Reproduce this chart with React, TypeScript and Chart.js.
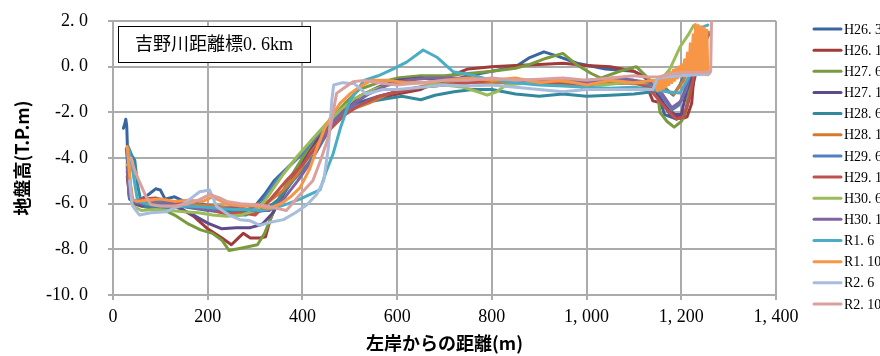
import React, { useEffect, useRef } from "react";
import { Chart, registerables } from "chart.js";
Chart.register(...registerables);

type Pt = [number, number];

const chartTitle = "吉野川距離標0.6km";
const xAxisTitle = "左岸からの距離(m)";
const yAxisTitle = "地盤高(T.P.m)";
const xTickValues = [0, 200, 400, 600, 800, 1000, 1200, 1400];
const yTickValues = [2, 0, -2, -4, -6, -8, -10];

const seriesNames = [
  "H26.3", "H26.10", "H27.6", "H27.10", "H28.6", "H28.10", "H29.6",
  "H29.10", "H30.6", "H30.10", "R1.6", "R1.10", "R2.6", "R2.10",
];
const seriesColors = [
  "#3A66A0", "#A03B39", "#7A9A3E", "#5E4A8A", "#34889E", "#D7782F", "#4F81BD",
  "#C0504D", "#9BBB59", "#8064A2", "#4BACC6", "#F79646", "#A7BDDB", "#DBA09E",
];

const H26_3: Pt[] = [[22,-2.7],[25,-2.5],[27,-2.3],[29,-2.6],[32,-4.5],[35,-5.8],[45,-5.9],[60,-5.8],[75,-5.6],[90,-5.35],[100,-5.4],[110,-5.8],[130,-5.7],[150,-5.9],[180,-6.0],[210,-6.1],[240,-6.3],[270,-6.4],[300,-6.1],[320,-5.6],[340,-5.0],[360,-4.6],[380,-4.2],[400,-3.8],[420,-3.2],[440,-2.8],[460,-2.3],[480,-2.0],[500,-1.7],[530,-1.5],[560,-1.3],[600,-1.1],[650,-0.9],[700,-0.7],[750,-0.4],[800,-0.2],[850,0.0],[880,0.4],[910,0.65],[940,0.45],[980,0.15],[1040,-0.1],[1100,-0.2],[1130,-0.5],[1150,-1.2],[1165,-2.1],[1190,-2.3],[1210,-1.9],[1225,-0.8],[1240,0.6],[1255,1.4]];
const H26_10: Pt[] = [[30,-4.8],[35,-5.7],[45,-5.9],[60,-5.95],[80,-5.9],[100,-5.9],[130,-6.0],[150,-6.3],[170,-6.55],[200,-7.1],[230,-7.5],[250,-7.8],[265,-7.5],[275,-7.3],[290,-7.5],[310,-7.5],[322,-7.45],[332,-6.7],[350,-5.8],[370,-5.1],[400,-4.2],[430,-3.2],[460,-2.5],[480,-2.1],[500,-1.8],[530,-1.6],[560,-1.4],[600,-1.2],[650,-1.0],[700,-0.5],[750,-0.1],[800,0.0],[850,0.05],[900,0.1],[950,0.15],[1000,0.05],[1050,0.0],[1100,-0.2],[1125,-0.5],[1132,-1.1],[1140,-1.5],[1160,-1.6],[1180,-2.0],[1200,-2.3],[1212,-2.2],[1222,-1.6],[1227,-0.3],[1240,0.7],[1255,1.3]];
const H27_6: Pt[] = [[30,-4.0],[35,-5.5],[45,-6.0],[60,-6.1],[80,-6.2],[100,-6.2],[130,-6.5],[160,-6.9],[185,-7.15],[210,-7.3],[230,-7.6],[245,-8.05],[270,-7.95],[305,-7.8],[320,-7.3],[332,-6.7],[345,-6.0],[370,-5.0],[400,-4.0],[430,-3.0],[460,-2.3],[490,-1.6],[520,-1.0],[560,-0.7],[600,-0.5],[650,-0.4],[700,-0.4],[750,-0.3],[800,-0.2],[850,-0.07],[880,0.1],[915,0.37],[950,0.58],[980,0.07],[1010,-0.3],[1030,-0.5],[1070,-0.2],[1105,0.0],[1125,-0.4],[1148,-0.9],[1155,-2.0],[1170,-2.4],[1185,-2.65],[1200,-2.4],[1208,-2.1],[1218,-0.9],[1230,0.5],[1245,1.3],[1258,1.5]];
const H27_10: Pt[] = [[30,-4.6],[35,-5.6],[45,-6.0],[60,-6.1],[80,-6.1],[110,-6.0],[140,-6.2],[170,-6.5],[200,-6.85],[230,-7.1],[260,-7.05],[290,-7.05],[315,-6.9],[338,-6.4],[360,-5.6],[390,-4.6],[420,-3.6],[450,-2.8],[480,-2.0],[520,-1.3],[560,-0.9],[600,-0.6],[650,-0.5],[700,-0.6],[750,-0.6],[800,-0.6],[850,-0.7],[900,-0.6],[960,-0.6],[990,-0.9],[1010,-0.6],[1060,-0.5],[1100,-0.6],[1140,-0.9],[1160,-1.5],[1176,-2.1],[1200,-2.1],[1211,-1.1],[1225,-0.2],[1240,0.5],[1257,1.4]];
const H28_6: Pt[] = [[32,-3.5],[40,-3.9],[46,-4.1],[52,-5.2],[60,-6.0],[80,-6.2],[110,-6.2],[140,-6.1],[170,-6.2],[200,-6.3],[230,-6.35],[260,-6.3],[290,-6.4],[320,-6.3],[350,-5.8],[380,-5.0],[410,-4.3],[430,-3.7],[450,-3.0],[470,-2.4],[490,-2.0],[520,-1.7],[550,-1.5],[580,-1.4],[610,-1.3],[650,-1.45],[680,-1.25],[720,-1.1],[760,-1.0],[800,-1.0],[850,-1.2],[900,-1.3],[950,-1.2],[1000,-1.3],[1050,-1.25],[1100,-1.2],[1140,-1.1],[1169,-1.0],[1183,-1.25],[1197,-0.8],[1211,-0.07],[1230,0.8],[1250,1.4]];
const H28_10: Pt[] = [[32,-3.8],[36,-5.0],[42,-5.9],[60,-5.9],[90,-5.95],[120,-5.9],[150,-6.0],[180,-6.05],[210,-6.1],[240,-6.15],[270,-6.1],[300,-6.05],[330,-5.9],[360,-5.4],[390,-4.7],[420,-3.7],[450,-2.9],[470,-2.3],[500,-1.9],[540,-1.6],[580,-1.2],[620,-1.0],[670,-0.8],[720,-0.7],[780,-0.7],[840,-0.7],[900,-0.7],[960,-0.8],[1020,-0.7],[1080,-0.7],[1130,-0.8],[1160,-1.0],[1185,-1.2],[1205,-0.6],[1225,0.4],[1250,1.3]];
const H29_6: Pt[] = [[28,-3.6],[32,-4.5],[36,-5.8],[50,-5.9],[70,-5.8],[100,-5.9],[130,-6.0],[160,-6.1],[190,-6.2],[220,-6.3],[250,-6.5],[280,-6.5],[305,-6.2],[325,-5.6],[345,-5.0],[370,-4.4],[395,-3.9],[420,-3.3],[445,-2.7],[470,-2.2],[500,-1.8],[530,-1.6],[560,-1.3],[600,-1.1],[650,-0.9],[700,-0.8],[750,-0.7],[800,-0.6],[850,-0.6],[900,-0.7],[950,-0.7],[1000,-0.6],[1050,-0.55],[1100,-0.6],[1140,-0.8],[1160,-1.3],[1180,-1.9],[1194,-1.7],[1210,-1.0],[1225,0.2],[1240,1.0],[1255,1.4]];
const H29_10: Pt[] = [[30,-4.2],[34,-5.6],[40,-5.9],[60,-5.8],[90,-5.75],[120,-5.9],[150,-6.0],[180,-6.2],[210,-6.3],[240,-6.45],[270,-6.4],[300,-6.5],[320,-6.1],[345,-5.5],[370,-4.9],[400,-4.3],[430,-3.5],[460,-2.7],[490,-2.1],[520,-1.7],[560,-1.3],[600,-1.1],[650,-0.9],[700,-0.8],[750,-0.7],[800,-0.6],[850,-0.7],[900,-0.75],[950,-0.7],[1000,-0.8],[1050,-0.75],[1100,-0.7],[1130,-0.9],[1150,-1.4],[1170,-1.9],[1190,-2.3],[1205,-2.2],[1218,-1.3],[1230,0.0],[1245,1.0],[1258,1.4]];
const H30_6: Pt[] = [[30,-4.3],[35,-5.5],[42,-6.1],[60,-6.3],[90,-6.25],[120,-6.3],[150,-6.35],[180,-6.4],[210,-6.5],[240,-6.55],[270,-6.5],[300,-6.3],[320,-5.9],[340,-5.3],[360,-4.7],[390,-3.9],[420,-3.2],[450,-2.5],[480,-1.9],[510,-1.4],[550,-1.0],[600,-0.7],[650,-0.7],[700,-0.8],[740,-0.9],[770,-1.1],[790,-1.25],[810,-1.1],[830,-0.8],[880,-0.7],[930,-0.6],[980,-0.7],[1030,-0.8],[1080,-0.7],[1130,-0.7],[1160,-0.5],[1176,-0.1],[1197,0.85],[1215,1.4],[1226,1.8],[1240,1.5]];
const H30_10: Pt[] = [[30,-4.4],[34,-5.7],[42,-5.95],[60,-6.0],[90,-6.0],[120,-6.05],[150,-6.1],[180,-6.2],[210,-6.3],[240,-6.2],[270,-6.2],[300,-6.3],[330,-6.3],[360,-5.8],[390,-5.0],[420,-4.1],[440,-3.3],[460,-2.6],[480,-2.1],[510,-1.6],[540,-1.2],[580,-0.8],[620,-0.6],[670,-0.5],[720,-0.5],[780,-0.55],[840,-0.6],[900,-0.6],[960,-0.6],[1010,-0.7],[1050,-0.6],[1100,-0.6],[1140,-0.7],[1160,-1.2],[1180,-1.8],[1200,-1.5],[1215,-0.5],[1235,0.6],[1255,1.4]];
const R1_6: Pt[] = [[33,-3.6],[38,-4.1],[45,-5.0],[52,-5.9],[70,-6.0],[100,-6.1],[130,-6.15],[160,-6.1],[190,-6.15],[220,-6.2],[250,-6.25],[280,-6.25],[310,-6.3],[340,-6.2],[370,-6.0],[395,-5.8],[415,-5.6],[437,-5.4],[450,-4.6],[465,-3.8],[480,-2.7],[500,-1.5],[530,-0.6],[560,-0.4],[592,-0.1],[620,0.2],[655,0.73],[685,0.4],[718,-0.22],[760,-0.37],[800,-0.6],[850,-0.7],[900,-0.8],[950,-0.85],[1000,-0.9],[1050,-0.95],[1100,-0.9],[1140,-1.0],[1170,-1.1],[1197,-1.15],[1218,-0.37],[1233,1.24],[1247,1.75],[1256,1.82]];
const R1_10: Pt[] = [[30,-3.5],[33,-4.2],[36,-5.0],[40,-5.8],[50,-5.9],[70,-5.85],[100,-5.8],[130,-5.9],[160,-5.85],[190,-5.9],[210,-5.7],[240,-6.0],[270,-6.1],[300,-6.1],[330,-6.2],[355,-6.0],[375,-5.7],[395,-5.3],[415,-4.5],[430,-3.6],[445,-2.8],[460,-2.2],[480,-1.6],[500,-1.2],[520,-0.9],[545,-0.6],[580,-0.6],[620,-0.7],[660,-0.7],[700,-0.6],[750,-0.5],[800,-0.6],[850,-0.5],[900,-0.7],[950,-0.6],[1000,-0.8],[1050,-0.6],[1100,-0.7],[1140,-0.6],[1150,-1.05],[1153,-0.45],[1156,-1.0],[1159,-0.42],[1162,-0.95],[1165,-0.38],[1168,-0.88],[1171,-0.32],[1174,-0.78],[1177,-0.25],[1180,-0.7],[1183,-0.15],[1186,-0.6],[1189,-0.08],[1192,-0.5],[1195,0.0],[1198,-0.42],[1201,0.1],[1204,-0.36],[1207,0.3],[1210,-0.35],[1213,0.6],[1216,-0.35],[1219,1.0],[1222,-0.35],[1225,1.4],[1228,-0.35],[1230,1.85],[1233,-0.35],[1236,1.8],[1239,-0.35],[1242,1.75],[1245,-0.35],[1248,1.7],[1251,-0.35],[1254,1.6],[1256,-0.35]];
const R2_6: Pt[] = [[35,-5.0],[40,-6.0],[45,-6.2],[56,-6.5],[80,-6.4],[113,-6.35],[150,-6.0],[183,-5.48],[204,-5.4],[219,-6.13],[245,-6.5],[268,-6.7],[290,-6.75],[310,-6.95],[335,-6.8],[360,-6.7],[385,-6.4],[409,-6.06],[430,-5.6],[445,-5.0],[455,-3.5],[462,-1.5],[466,-0.8],[485,-0.7],[510,-0.75],[535,-1.2],[570,-1.0],[600,-1.0],[650,-0.9],[700,-0.8],[750,-0.85],[800,-0.8],[850,-0.9],[900,-1.0],[950,-1.1],[1000,-1.0],[1050,-1.0],[1100,-1.0],[1140,-1.0],[1150,-0.5],[1170,-0.45],[1200,-0.4],[1230,-0.35],[1260,-0.3]];
const R2_10: Pt[] = [[38,-4.0],[45,-4.5],[55,-5.0],[70,-5.7],[80,-6.05],[100,-6.1],[130,-6.1],[160,-6.0],[185,-5.8],[204,-5.6],[225,-5.75],[240,-5.9],[270,-6.0],[300,-6.05],[324,-6.1],[345,-6.2],[366,-6.3],[395,-5.6],[422,-5.0],[440,-4.0],[455,-3.07],[465,-2.0],[472,-1.17],[490,-0.9],[507,-0.66],[530,-0.6],[560,-0.7],[600,-0.8],[650,-0.7],[700,-0.6],[750,-0.6],[800,-0.5],[850,-0.6],[900,-0.55],[950,-0.5],[1000,-0.6],[1050,-0.5],[1100,-0.4],[1130,-0.45],[1155,-0.44],[1180,-0.3],[1210,-0.25],[1240,-0.25],[1262,-0.22],[1264,2.2]];

const seriesData: Pt[][] = [H26_3, H26_10, H27_6, H27_10, H28_6, H28_10, H29_6, H29_10, H30_6, H30_10, R1_6, R1_10, R2_6, R2_10];

const SERIF = "'Liberation Serif', 'Noto Sans CJK JP', serif";
const GOTHIC = "'Noto Sans CJK JP', sans-serif";
const GRID = "#ABABAB";

const minchoSpacing = (s: string) => s.replace(/\./g, ". ").replace(/,/g, ", ");

const titleBoxPlugin = {
  id: "titleBox",
  afterDraw(chart: any) {
    const ctx = chart.ctx;
    const a = chart.chartArea;
    ctx.save();
    const x = a.left + 5, y = a.top + 5, w = 192, h = 36;
    ctx.fillStyle = "#ffffff";
    ctx.fillRect(x, y, w, h);
    ctx.strokeStyle = "#000000";
    ctx.lineWidth = 1;
    ctx.strokeRect(x + 0.5, y + 0.5, w, h);
    ctx.fillStyle = "#000000";
    ctx.font = `18px ${SERIF}`;
    ctx.textAlign = "center";
    ctx.textBaseline = "middle";
    ctx.fillText(minchoSpacing(chartTitle), x + w / 2, y + h / 2 + 1);
    ctx.restore();
  },
};

const legendPlugin = {
  id: "sideLegend",
  afterDraw(chart: any) {
    const ctx = chart.ctx;
    ctx.save();
    chart.data.datasets.forEach((ds: any, i: number) => {
      const y = 29 + i * 21.15;
      ctx.strokeStyle = ds.borderColor;
      ctx.lineWidth = 3;
      ctx.lineCap = "round";
      ctx.beginPath();
      ctx.moveTo(814, y);
      ctx.lineTo(841, y);
      ctx.stroke();
      ctx.fillStyle = "#000000";
      ctx.font = `14px ${SERIF}`;
      ctx.textAlign = "left";
      ctx.textBaseline = "middle";
      ctx.fillText(minchoSpacing(ds.label), 844, y + 1);
    });
    ctx.restore();
  },
};

export default function App() {
  const ref = useRef<HTMLCanvasElement | null>(null);
  useEffect(() => {
    if (!ref.current) return;
    const n = seriesNames.length;
    const chart = new Chart(ref.current, {
      type: "line",
      data: {
        datasets: seriesNames.map((name, i) => ({
          label: name,
          data: seriesData[i].map(([x, y]) => ({ x, y })),
          borderColor: seriesColors[i],
          backgroundColor: seriesColors[i],
          borderWidth: 3,
          pointRadius: 0,
          tension: 0,
          borderCapStyle: "round",
          borderJoinStyle: "round",
          order: n - 1 - i,
        })),
      },
      options: {
        animation: false,
        responsive: false,
        layout: { padding: { top: 21, right: 104, left: 0, bottom: 0 } },
        plugins: { legend: { display: false }, tooltip: { enabled: false } },
        scales: {
          x: {
            type: "linear",
            min: 0,
            max: 1400,
            afterBuildTicks: (s: any) => { s.ticks = xTickValues.map((v) => ({ value: v })); },
            afterFit: (s: any) => { s.height = 61; },
            grid: { color: GRID, lineWidth: 2, tickLength: 5, drawTicks: true },
            border: { color: GRID, width: 2 },
            ticks: {
              color: "#000",
              font: { family: SERIF, size: 18 },
              padding: 6,
              maxRotation: 0,
              callback: (v: any) => minchoSpacing(Number(v).toLocaleString("en-US")),
            },
            title: {
              display: true,
              text: xAxisTitle,
              color: "#000",
              font: { family: GOTHIC, size: 18, weight: "bold" },
              padding: { top: 0, bottom: 2 },
            },
          },
          y: {
            type: "linear",
            min: -10,
            max: 2,
            afterBuildTicks: (s: any) => { s.ticks = yTickValues.map((v) => ({ value: v })); },
            afterFit: (s: any) => { s.width = 113; s.paddingTop = 0; s.paddingBottom = 0; },
            grid: { color: GRID, lineWidth: 2, tickLength: 5, drawTicks: true },
            border: { color: GRID, width: 2 },
            ticks: {
              color: "#000",
              font: { family: SERIF, size: 18 },
              padding: 20,
              callback: (v: any) => minchoSpacing(Number(v).toFixed(1)),
            },
            title: {
              display: true,
              text: yAxisTitle,
              color: "#000",
              font: { family: GOTHIC, size: 18, weight: "bold" },
              padding: { top: 11, bottom: 0 },
            },
          },
        },
      },
      plugins: [titleBoxPlugin, legendPlugin],
    } as any);
    return () => chart.destroy();
  }, []);
  return (
    <div style={{ position: "fixed", left: 0, top: 0, width: 880, height: 356, background: "#fff" }}>
      <canvas ref={ref} width={880} height={356} />
    </div>
  );
}
